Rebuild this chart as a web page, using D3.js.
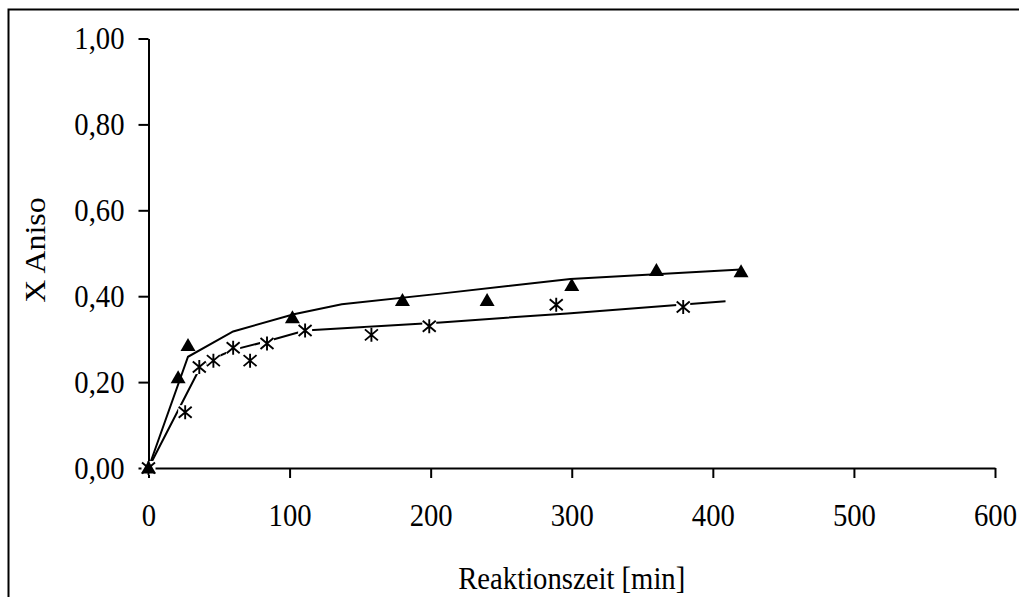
<!DOCTYPE html>
<html>
<head>
<meta charset="utf-8">
<script src="https://cdn.jsdelivr.net/npm/d3@7"></script>
<style>
  body { margin: 0; background: #fff; }
  text { font-family: "Liberation Serif", "Times New Roman", serif; fill: #000; }
</style>
</head>
<body>
<svg id="chart" width="1019" height="597"></svg>
<script>
// measured values (triangles) and fitted curve
var triTime  = [0, 21, 28, 102, 180, 240, 300, 360, 420];
var triValue = [0, 0.21, 0.285, 0.35, 0.39, 0.39, 0.425, 0.46, 0.457];
var triFitTime  = [0, 28, 60, 103, 137, 207, 299, 420];
var triFitValue = [0, 0.259, 0.318, 0.358, 0.381, 0.406, 0.44, 0.462];

// measured values (stars) and fitted curve
var starTime  = [0, 26, 36, 46, 60, 72, 84, 111, 158, 199, 289, 379];
var starValue = [0, 0.13, 0.235, 0.25, 0.28, 0.25, 0.29, 0.32, 0.31, 0.33, 0.38, 0.375];
var starFitTime  = [0, 36, 46, 60, 84, 111, 207, 297, 409];
var starFitValue = [0, 0.23, 0.255, 0.275, 0.295, 0.32, 0.339, 0.36, 0.388];

var xTicks = [0, 100, 200, 300, 400, 500, 600];
var yTicks = [0, 0.2, 0.4, 0.6, 0.8, 1.0];

var svg = d3.select("#chart");
var stretch = 1.1; // text in the original is a bit taller than wide

// outer frame (right and bottom edges run off the page)
svg.append("rect")
    .attr("x", 8.5).attr("y", 9.5)
    .attr("width", 1100).attr("height", 700)
    .attr("fill", "none").attr("stroke", "#000").attr("stroke-width", 2);

var x = d3.scaleLinear().domain([0, 600]).range([148.5, 995]);
var y = d3.scaleLinear().domain([0, 1]).range([468, 38.5]);

var fmt = function(d) { return d3.format(".2f")(d).replace(".", ","); };

// y axis
var gy = svg.append("g").attr("transform", "translate(" + x(0) + ",0)")
    .call(d3.axisLeft(y).tickValues(yTicks).tickSize(10).tickSizeOuter(0).tickPadding(14).tickFormat(fmt));
// x axis
var gx = svg.append("g").attr("transform", "translate(0," + y(0) + ")")
    .call(d3.axisBottom(x).tickValues(xTicks).tickSize(10).tickSizeOuter(0).tickPadding(22));

[gx, gy].forEach(function(g) {
    g.select(".domain").attr("stroke", "#000").attr("stroke-width", 2);
    g.selectAll(".tick line").attr("stroke", "#000").attr("stroke-width", 2);
    g.selectAll(".tick text")
        .style("font-family", "'Liberation Serif', serif").style("font-size", "28.7px")
        .attr("fill", "#000")
        .attr("transform", "scale(1," + stretch + ")");
});

// axis titles
svg.append("text")
    .attr("transform", "translate(" + (x(0) + x(600)) / 2 + ",589) scale(1," + stretch + ")")
    .attr("text-anchor", "middle")
    .style("font-size", "28.7px")
    .text("Reaktionszeit [min]");

svg.append("text")
    .attr("transform", "translate(45,250) rotate(-90) scale(" + stretch + ",1)")
    .attr("text-anchor", "middle")
    .style("font-size", "29px")
    .text("X Aniso");

var line = d3.line()
    .x(function(d) { return x(d[0]); })
    .y(function(d) { return y(d[1]); });

var triFit = d3.zip(triFitTime, triFitValue);
var starFit = d3.zip(starFitTime, starFitValue);
var triPts = d3.zip(triTime, triValue);
var starPts = d3.zip(starTime, starValue);

svg.append("path").datum(starFit).attr("d", line)
    .attr("fill", "none").attr("stroke", "#000").attr("stroke-width", 2);

svg.append("path").datum(triFit).attr("d", line)
    .attr("fill", "none").attr("stroke", "#000").attr("stroke-width", 2);

// star markers with white background
var stars = svg.append("g").selectAll("g").data(starPts).enter().append("g")
    .attr("transform", function(d) { return "translate(" + x(d[0]) + "," + y(d[1]) + ")"; });
stars.append("rect").attr("x", -7).attr("y", -7).attr("width", 14).attr("height", 14).attr("fill", "#fff");
stars.append("path")
    .attr("d", "M0,-7V7M-6.5,-5.5L6.5,5.5M-6.5,5.5L6.5,-5.5")
    .attr("fill", "none").attr("stroke", "#000").attr("stroke-width", 1.9);

// triangle markers
svg.append("g").selectAll("path").data(triPts).enter().append("path")
    .attr("transform", function(d) { return "translate(" + x(d[0]) + "," + y(d[1]) + ")"; })
    .attr("d", "M0,-7.5L7.5,5.5L-7.5,5.5Z")
    .attr("fill", "#000");
</script>
</body>
</html>
